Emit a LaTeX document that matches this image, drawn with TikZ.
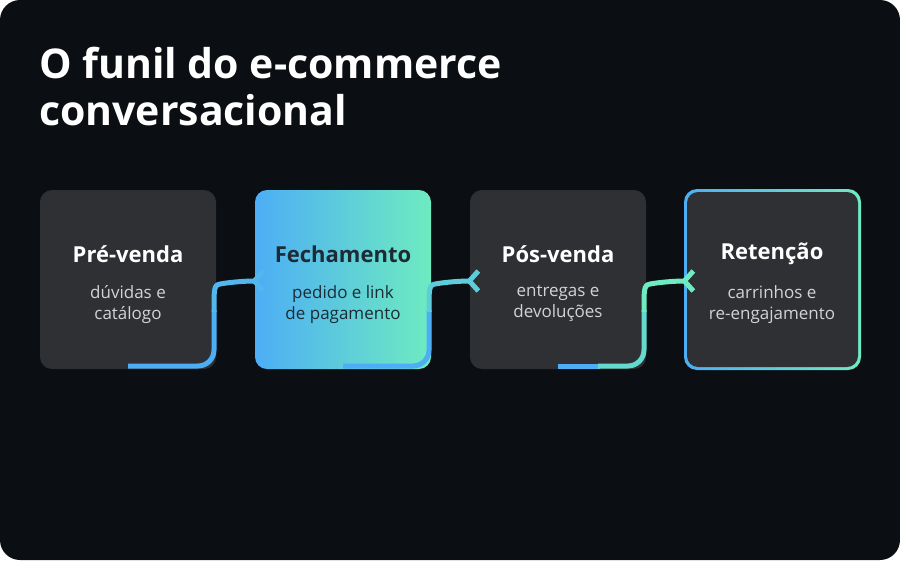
\documentclass[tikz,border=0pt]{standalone}
\usepackage{fontspec}
\setmainfont{Open Sans}
\usetikzlibrary{arrows.meta}
\definecolor{bg}{HTML}{0B0E12}
\definecolor{card}{HTML}{2F3033}
\definecolor{cblue}{HTML}{4DAEF5}
\definecolor{cteal}{HTML}{6EEBC0}
\definecolor{sub}{HTML}{D2D3D6}
\definecolor{dk}{HTML}{1C2B35}
\tikzset{
 card/.style={fill=card,rounded corners=12pt},
 hd/.style={font=\fontsize{22}{26}\selectfont\bfseries,text=white,anchor=center},
 sb/.style={font=\fontsize{17}{21}\selectfont,text=sub,align=center,anchor=north},
 conn/.style={line width=5pt,rounded corners=16pt},
 tip/.style={-{Straight Barb[length=9pt,width=20pt,line width=5pt]}},
}
\begin{document}
\begin{tikzpicture}[x=1pt,y=-1pt]
\useasboundingbox (0,0) rectangle (900,560);
\fill[bg,rounded corners=20pt] (0,0) rectangle (900,560);
\node[anchor=base west,font=\fontsize{41}{46}\selectfont\bfseries,text=white,inner sep=0] (title) at (39,78) {O funil do e-commerce};
\node[anchor=base west,font=\fontsize{41}{46}\selectfont\bfseries,text=white,inner sep=0] (title2) at (39,125) {conversacional};
% cards
\fill[card] (40,190) rectangle (216,369);
\shade[left color=cblue,right color=cteal,rounded corners=12pt] (255,190) rectangle (431,369);
\fill[card] (470,190) rectangle (646,369);
\shade[left color=cblue,right color=cteal,rounded corners=13pt] (684,189) rectangle (861,370);
\fill[card,rounded corners=11pt] (687,192) rectangle (858,367);
\node[hd] (h1) at (128,254) {Pré-venda};
\node[sb] (s1) at (128,282) {dúvidas e\\catálogo};
\node[hd,text=dk] (h2) at (343,254) {Fechamento};
\node[sb,text=dk] (s2) at (343,282) {pedido e link\\de pagamento};
\node[hd] (h3) at (558,254) {Pós-venda};
\node[sb] (s3) at (558,282) {entregas e\\devoluções};
\node[hd] (h4) at (772,254) {Retenção};
\node[sb] (s4) at (772,282) {carrinhos e\\re-engajamento};
% connectors
\coordinate (a1) at (128,366); \coordinate (b1) at (251,281);
\coordinate (a2) at (343,366); \coordinate (b2) at (466,281);
\coordinate (a3) at (558,366); \coordinate (b3) at (681,281);
\draw[conn,cblue] (a1) -- (214,366) -- (214,310);
\draw[conn,cblue!85!cteal,tip] (214,312) .. controls (214,285) .. (238,281) -- (b1);
\draw[conn,cblue] (a2) -- (429,366) -- (429,310);
\draw[conn,cblue!50!cteal,tip] (429,312) .. controls (429,285) .. (453,281) -- (b2);
\draw[conn,cblue] (a3) -- (600,366);
\draw[conn,cblue!30!cteal] (598,366) -- (644,366) -- (644,310);
\draw[conn,cteal,tip] (644,312) .. controls (644,285) .. (668,281) -- (b3);
\end{tikzpicture}
\end{document}
